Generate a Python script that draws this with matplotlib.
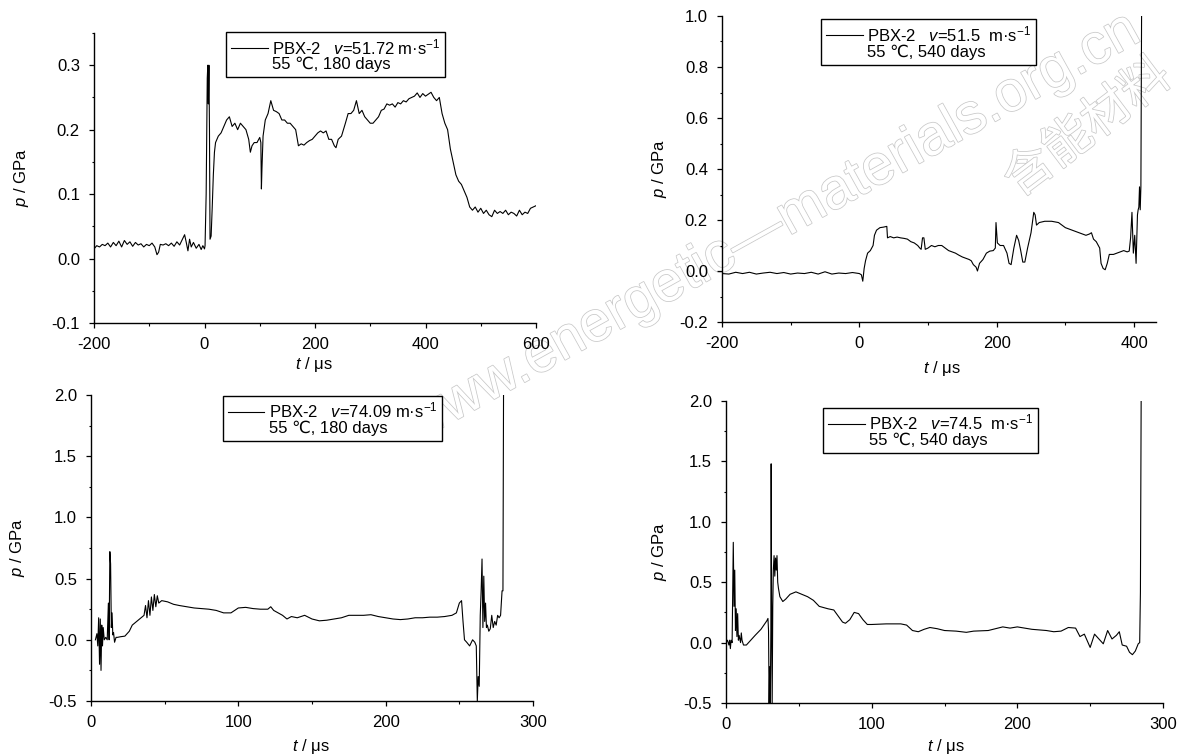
import matplotlib
matplotlib.use("Agg")
import matplotlib.pyplot as plt
import matplotlib.patheffects as pe
from matplotlib.lines import Line2D
from matplotlib.ticker import MultipleLocator, FormatStrFormatter

plt.rcParams['font.family'] = ['Liberation Sans Narrow', 'Liberation Sans', 'DejaVu Sans']
plt.rcParams['mathtext.fontset'] = 'custom'
plt.rcParams['mathtext.rm'] = 'Liberation Sans'
plt.rcParams['mathtext.it'] = 'Liberation Sans:italic'
plt.rcParams['axes.unicode_minus'] = False

# (t / us, p / GPa)
trace1 = [(-200, 0.015), (-195, 0.020), (-190, 0.018), (-185, 0.022), (-180, 0.020), (-175, 0.024),
          (-170, 0.018), (-165, 0.025), (-160, 0.020), (-155, 0.027), (-150, 0.018), (-145, 0.028),
          (-140, 0.022), (-135, 0.026), (-130, 0.019), (-125, 0.025), (-120, 0.021), (-115, 0.023),
          (-110, 0.018), (-105, 0.022), (-100, 0.020), (-95, 0.024), (-90, 0.018), (-86, 0.006),
          (-83, 0.010), (-80, 0.022), (-75, 0.021), (-70, 0.023), (-65, 0.020), (-60, 0.024),
          (-55, 0.019), (-50, 0.026), (-45, 0.021), (-40, 0.030), (-36, 0.037), (-33, 0.025),
          (-30, 0.012), (-27, 0.030), (-24, 0.018), (-20, 0.025), (-15, 0.016), (-10, 0.022),
          (-6, 0.014), (-3, 0.020), (0, 0.015), (1, 0.02), (3, 0.10), (5, 0.28), (6, 0.30),
          (7, 0.24), (8, 0.30), (9, 0.20), (10, 0.03), (12, 0.035), (14, 0.08), (16, 0.13),
          (18, 0.165), (20, 0.18), (25, 0.19), (30, 0.195), (35, 0.205), (40, 0.215), (45, 0.22),
          (50, 0.205), (55, 0.21), (60, 0.20), (65, 0.21), (70, 0.205), (75, 0.20), (80, 0.185),
          (83, 0.165), (86, 0.175), (90, 0.18), (95, 0.18), (100, 0.188), (102, 0.18), (103, 0.108),
          (104, 0.14), (106, 0.19), (110, 0.215), (115, 0.225), (120, 0.245), (125, 0.23),
          (130, 0.228), (135, 0.225), (140, 0.215), (145, 0.215), (150, 0.21), (155, 0.21),
          (160, 0.205), (165, 0.20), (170, 0.175), (175, 0.178), (180, 0.176), (185, 0.18),
          (190, 0.183), (195, 0.185), (200, 0.19), (205, 0.195), (210, 0.198), (215, 0.195),
          (220, 0.198), (225, 0.185), (230, 0.185), (235, 0.175), (238, 0.172), (242, 0.185),
          (248, 0.19), (255, 0.21), (260, 0.225), (265, 0.225), (270, 0.23), (275, 0.245),
          (280, 0.225), (285, 0.23), (290, 0.22), (295, 0.215), (300, 0.21), (305, 0.21),
          (310, 0.215), (315, 0.22), (320, 0.23), (325, 0.232), (330, 0.24), (335, 0.238),
          (340, 0.24), (345, 0.235), (350, 0.242), (355, 0.24), (360, 0.245), (365, 0.243),
          (370, 0.248), (375, 0.25), (380, 0.252), (385, 0.257), (390, 0.25), (395, 0.256),
          (400, 0.252), (405, 0.255), (410, 0.258), (415, 0.25), (420, 0.245), (425, 0.25),
          (430, 0.225), (435, 0.21), (440, 0.20), (445, 0.17), (450, 0.15), (455, 0.13),
          (460, 0.12), (465, 0.115), (470, 0.105), (475, 0.095), (480, 0.08), (485, 0.075),
          (490, 0.08), (495, 0.072), (500, 0.078), (505, 0.07), (510, 0.075), (515, 0.068),
          (520, 0.065), (525, 0.075), (530, 0.07), (535, 0.073), (540, 0.07), (545, 0.075),
          (550, 0.068), (555, 0.072), (560, 0.07), (565, 0.066), (570, 0.075), (575, 0.068),
          (580, 0.072), (585, 0.07), (590, 0.078), (595, 0.08), (600, 0.082)]

trace2 = [(-200, -0.01), (-190, -0.012), (-180, -0.005), (-170, -0.01), (-160, -0.005), (-150, -0.012),
          (-140, -0.008), (-130, -0.005), (-120, -0.01), (-110, -0.006), (-100, -0.012), (-90, -0.008),
          (-80, -0.01), (-70, -0.005), (-60, -0.012), (-50, -0.003), (-40, -0.012), (-30, -0.008),
          (-20, -0.01), (-10, -0.006), (0, -0.01), (3, -0.015), (5, -0.04), (7, 0.01), (9, 0.04),
          (12, 0.07), (16, 0.08), (20, 0.10), (22, 0.14), (25, 0.16), (30, 0.17), (35, 0.172),
          (40, 0.175), (41, 0.13), (45, 0.135), (50, 0.13), (55, 0.133), (60, 0.13), (65, 0.128),
          (70, 0.125), (75, 0.115), (80, 0.11), (85, 0.10), (88, 0.09), (90, 0.085), (92, 0.13),
          (94, 0.13), (96, 0.085), (100, 0.09), (105, 0.10), (110, 0.095), (115, 0.10), (120, 0.10),
          (125, 0.09), (130, 0.08), (135, 0.075), (140, 0.07), (145, 0.062), (150, 0.055),
          (155, 0.05), (160, 0.045), (163, 0.04), (166, 0.025), (170, 0.015), (172, 0.0),
          (175, 0.03), (180, 0.045), (185, 0.07), (190, 0.078), (195, 0.08), (198, 0.09),
          (199, 0.19), (201, 0.11), (205, 0.10), (210, 0.10), (215, 0.07), (218, 0.03),
          (221, 0.025), (225, 0.09), (229, 0.14), (232, 0.12), (235, 0.08), (238, 0.035),
          (241, 0.035), (245, 0.09), (250, 0.15), (254, 0.23), (256, 0.22), (258, 0.18),
          (262, 0.19), (270, 0.195), (280, 0.195), (290, 0.19), (300, 0.17), (310, 0.16),
          (320, 0.15), (325, 0.145), (330, 0.14), (335, 0.145), (338, 0.15), (341, 0.125),
          (345, 0.115), (350, 0.09), (352, 0.03), (355, 0.01), (358, 0.005), (361, 0.03),
          (364, 0.065), (370, 0.065), (375, 0.07), (380, 0.075), (385, 0.08), (390, 0.075),
          (393, 0.078), (395, 0.13), (397, 0.23), (399, 0.07), (401, 0.14), (403, 0.03),
          (405, 0.22), (406, 0.24), (407, 0.25), (408, 0.33), (409, 0.24), (410, 0.33), (411, 1.0)]

trace3 = [(3, 0.0), (4, 0.05), (4.6, -0.05), (5.2, 0.18), (5.8, -0.2), (6.3, 0.17), (6.8, -0.25),
          (7.3, 0.12), (7.8, -0.05), (8.3, 0.1), (9, 0.0), (10, 0.02), (11, 0.0), (11.8, 0.3),
          (12.3, 0.0), (12.8, 0.72), (13.3, 0.62), (13.8, 0.1), (14.3, 0.22), (14.8, 0.04),
          (15.3, 0.06), (16, -0.02), (17, 0.02), (18, 0.02), (20, 0.025), (23, 0.03), (26, 0.07),
          (28, 0.12), (30, 0.14), (32, 0.16), (34, 0.18), (36, 0.2), (37, 0.28), (38, 0.18),
          (39, 0.32), (40, 0.2), (41, 0.35), (42, 0.24), (43, 0.37), (44, 0.27), (45, 0.36),
          (46, 0.3), (48, 0.32), (52, 0.31), (56, 0.29), (60, 0.28), (65, 0.27), (70, 0.26),
          (75, 0.255), (80, 0.25), (85, 0.24), (90, 0.22), (95, 0.22), (100, 0.26), (105, 0.265),
          (110, 0.255), (115, 0.25), (120, 0.25), (122, 0.27), (124, 0.24), (127, 0.22),
          (130, 0.2), (133, 0.17), (136, 0.19), (140, 0.18), (145, 0.2), (150, 0.17), (155, 0.155),
          (160, 0.16), (165, 0.17), (170, 0.18), (175, 0.2), (180, 0.2), (185, 0.2), (190, 0.205),
          (195, 0.19), (200, 0.18), (205, 0.17), (210, 0.165), (215, 0.17), (220, 0.18),
          (225, 0.18), (230, 0.185), (235, 0.185), (240, 0.19), (245, 0.2), (248, 0.22),
          (250, 0.3), (251.5, 0.32), (252.5, 0.15), (253.5, 0.0), (255, -0.02), (257, -0.05),
          (259, 0.0), (260.5, -0.02), (261.5, -0.05), (262.2, -0.5), (262.8, -0.3), (263.5, -0.38),
          (264.2, 0.2), (264.8, 0.4), (265.4, 0.66), (266, 0.1), (266.6, 0.52), (267.2, 0.15),
          (267.8, 0.3), (268.4, 0.1), (269, 0.12), (270, 0.07), (271, 0.09), (272, 0.2),
          (273, 0.1), (274, 0.15), (275, 0.12), (276, 0.2), (277, 0.18), (278, 0.2), (279, 0.4),
          (279.6, 0.4), (280, 2.0)]

trace4 = [(0, 0.0), (1, 0.02), (2, -0.02), (2.5, 0.02), (3, -0.05), (3.5, 0.02), (4.2, 0.0),
          (5, 0.83), (5.5, 0.3), (6, 0.6), (6.5, 0.1), (7, 0.28), (7.5, 0.05), (8, 0.24),
          (8.5, 0.02), (9, 0.06), (10, 0.0), (10.5, 0.08), (11, 0.02), (12, -0.02), (14, -0.02),
          (17, 0.02), (20, 0.06), (24, 0.11), (28, 0.18), (28.8, 0.2), (29.2, 0.1), (29.6, -0.5),
          (30, -0.2), (30.4, -0.5), (30.8, 0.1), (31, 1.48), (31.3, 0.35), (31.7, -0.5),
          (32.1, 0.3), (32.5, 0.6), (33, 0.72), (33.5, 0.55), (34, 0.7), (34.5, 0.6), (35, 0.72),
          (35.5, 0.5), (36, 0.45), (37, 0.38), (38, 0.36), (39, 0.34), (41, 0.36), (44, 0.4),
          (48, 0.42), (52, 0.4), (56, 0.38), (60, 0.35), (64, 0.3), (70, 0.28), (74, 0.27),
          (77, 0.22), (80, 0.17), (82, 0.16), (85, 0.19), (88, 0.25), (91, 0.24), (94, 0.19),
          (97, 0.15), (100, 0.15), (110, 0.155), (120, 0.155), (124, 0.145), (128, 0.1),
          (132, 0.09), (136, 0.11), (140, 0.125), (145, 0.115), (150, 0.1), (158, 0.095),
          (165, 0.085), (170, 0.095), (180, 0.1), (190, 0.13), (195, 0.12), (200, 0.13),
          (210, 0.11), (220, 0.1), (225, 0.09), (230, 0.095), (235, 0.125), (240, 0.12),
          (243, 0.05), (246, 0.07), (250, -0.04), (253, 0.07), (256, 0.03), (259, -0.01),
          (262, 0.1), (265, 0.03), (268, 0.06), (270, 0.09), (272, -0.02), (275, -0.03),
          (277, -0.08), (279, -0.1), (281, -0.07), (283, -0.01), (284, 0.0), (284.5, 0.42),
          (285, 2.0)]

legend1 = ['PBX-2   $v$=51.72 m·s$^{-1}$', '55 ℃, 180 days']
legend2 = ['PBX-2   $v$=51.5  m·s$^{-1}$', '55 ℃, 540 days']
legend3 = ['PBX-2   $v$=74.09 m·s$^{-1}$', '55 ℃, 180 days']
legend4 = ['PBX-2   $v$=74.5  m·s$^{-1}$', '55 ℃, 540 days']

W, H = 1182, 756
FS = 12
fig = plt.figure(figsize=(W / 100, H / 100), dpi=100)


def panel(box, trace, xlim, ylim, xmaj, ymaj, labels, leg_at, ylab_x, xlab_pos):
    left, right, top, bottom = box
    ax = fig.add_axes([left / W, 1 - bottom / H, (right - left) / W, (bottom - top) / H])
    ax.patch.set_visible(False)
    t = [a for a, b in trace]
    p = [b for a, b in trace]
    ax.plot(t, p, color='black', lw=0.8)
    ax.set_xlim(*xlim)
    ax.set_ylim(*ylim)
    ax.xaxis.set_major_locator(MultipleLocator(xmaj))
    ax.xaxis.set_minor_locator(MultipleLocator(xmaj / 2))
    ax.yaxis.set_major_locator(MultipleLocator(ymaj))
    ax.yaxis.set_minor_locator(MultipleLocator(ymaj / 2))
    ax.yaxis.set_major_formatter(FormatStrFormatter('%.1f'))
    for s in ['top', 'right']:
        ax.spines[s].set_visible(False)
    for s in ['left', 'bottom']:
        ax.spines[s].set_linewidth(1.0)
    ax.tick_params(which='major', direction='out', length=3.6, width=0.9, labelsize=FS, pad=6.5)
    ax.tick_params(which='minor', direction='out', length=1.8, width=0.8)
    ax.set_ylabel('$p$ / GPa', fontsize=FS)
    ax.set_xlabel('$t$ / μs', fontsize=FS)
    ax.yaxis.set_label_coords(ylab_x, 0.5)
    ax.xaxis.set_label_coords(*xlab_pos)
    handles = [Line2D([], [], color='black', lw=0.8), Line2D([], [], color='none')]
    leg = ax.legend(handles, labels, loc='upper left', bbox_to_anchor=leg_at, borderaxespad=0,
                    fancybox=False, edgecolor='black', framealpha=1, handlelength=2.2,
                    handletextpad=0.25, borderpad=0.3, labelspacing=0.0, fontsize=FS)
    leg.get_frame().set_linewidth(1.0)
    return ax


panel((94, 536, 33, 323), trace1, (-200, 600), (-0.1, 0.35), 200, 0.1, legend1,
      (0.299, 1.003), -0.143, (0.497, -0.11))
panel((722, 1156, 16, 322), trace2, (-200, 432), (-0.2, 1.0), 200, 0.2, legend2,
      (0.228, 0.989), -0.122, (0.506, -0.12))
panel((91, 533, 395, 701), trace3, (0, 300), (-0.5, 2.0), 100, 0.5, legend3,
      (0.298, 0.997), -0.145, (0.498, -0.117))
panel((726, 1163, 401, 703), trace4, (0, 300), (-0.5, 2.0), 100, 0.5, legend4,
      (0.223, 0.977), -0.130, (0.503, -0.113))

# faint watermark behind the plots
outline = [pe.withStroke(linewidth=1.1, foreground='#c8c8c8')]
fig.text(772 / W, 1 - 228 / H, 'www.energetic—materials.org.cn', rotation=29,
         ha='center', va='center', fontsize=41, color='white', family='Liberation Sans',
         path_effects=outline, zorder=-5)
fig.text(1088 / W, 1 - 128 / H, '含能材料', rotation=37, ha='center', va='center',
         fontsize=35, color='white', family=['Noto Sans CJK SC', 'DejaVu Sans'],
         path_effects=outline, zorder=-5)

fig.savefig('out.png', dpi=100)
